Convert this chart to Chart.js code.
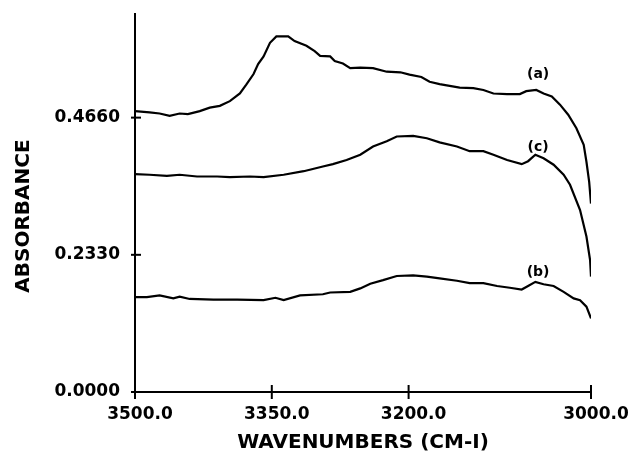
<!DOCTYPE html>
<html>
<head>
<meta charset="utf-8">
<script src="https://cdn.jsdelivr.net/npm/chart.js@4/dist/chart.umd.min.js"></script>
<style>
  html, body { margin: 0; padding: 0; background: #fff; }
  #wrap { width: 632px; height: 456px; }
</style>
</head>
<body>
<div id="wrap"><canvas id="spectrum" width="632" height="456"></canvas></div>
<script>
// spectrum (a)
var waveA = [3500,3484,3473,3462,3451,3442,3429,3418,3407,3396,3385,3378,3370,3365,3359,3352,3345,3332,3325,3312,
             3303,3297,3286,3281,3272,3264,3253,3239,3224,3209,3199,3186,3177,3166,3155,3144,3129,3118,3107,3092,
             3078,3071,3060,3052,3043,3034,3025,3016,3008,3005,3002,3000];
var absA  = [0.477,0.475,0.473,0.469,0.473,0.472,0.477,0.483,0.486,0.494,0.507,0.522,0.540,0.557,0.570,0.593,0.604,0.604,0.596,0.588,
             0.579,0.571,0.570,0.562,0.558,0.550,0.551,0.550,0.544,0.543,0.539,0.535,0.527,0.523,0.520,0.517,0.516,0.513,0.507,0.506,
             0.506,0.511,0.513,0.507,0.502,0.488,0.471,0.448,0.420,0.391,0.357,0.320];

// spectrum (c)
var waveC = [3500,3484,3465,3451,3432,3410,3396,3374,3359,3337,3315,3294,3283,3268,3253,3239,3224,3213,3195,3180,
             3166,3147,3133,3118,3107,3092,3076,3069,3061,3052,3041,3030,3023,3012,3005,3001,3000];
var absC  = [0.370,0.369,0.367,0.369,0.366,0.366,0.365,0.366,0.365,0.369,0.375,0.383,0.387,0.394,0.403,0.417,0.426,0.434,0.435,0.431,
             0.424,0.417,0.409,0.409,0.403,0.394,0.387,0.392,0.403,0.397,0.386,0.369,0.352,0.309,0.264,0.224,0.196];

// spectrum (b)
var waveB = [3500,3487,3473,3458,3451,3440,3414,3388,3359,3346,3337,3319,3294,3286,3264,3253,3242,3228,3213,3195,
             3180,3166,3147,3133,3118,3103,3089,3076,3069,3061,3052,3041,3030,3019,3012,3005,3000];
var absB  = [0.161,0.161,0.164,0.159,0.162,0.158,0.157,0.157,0.156,0.160,0.156,0.164,0.166,0.169,0.170,0.176,0.184,0.190,0.197,0.198,
             0.196,0.193,0.189,0.185,0.185,0.180,0.177,0.174,0.180,0.187,0.183,0.180,0.170,0.159,0.156,0.145,0.125];

var xTickValues = [3000, 3200, 3350, 3500];
var yTickValues = [0, 0.2330, 0.4660];

// curve tags
var tagText = ['(a)', '(c)', '(b)'];
var tagWave = [3058, 3058, 3058];
var tagAbs  = [0.540, 0.416, 0.204];

function toPoints(xs, ys){
  var pts = [];
  for (var i = 0; i < xs.length; i++) {
    pts.push({x: xs[i], y: ys[i]});
  }
  return pts;
}

var FONT = '"DejaVu Sans", sans-serif';

var decorations = {
  id: 'decorations',
  afterDraw: function(chart){
    var ctx = chart.ctx;
    var x = chart.scales.x;
    var y = chart.scales.y;
    ctx.save();
    ctx.strokeStyle = '#000';
    ctx.lineWidth = 2;
    // tick marks crossing the axes
    xTickValues.forEach(function(v){
      var px = x.getPixelForValue(v);
      ctx.beginPath();
      ctx.moveTo(px, y.bottom - 7);
      ctx.lineTo(px, y.bottom + 7);
      ctx.stroke();
    });
    yTickValues.forEach(function(v){
      var py = y.getPixelForValue(v);
      ctx.beginPath();
      ctx.moveTo(x.left - 4, py);
      ctx.lineTo(x.left + 6, py);
      ctx.stroke();
    });
    // curve tags
    ctx.fillStyle = '#000';
    ctx.font = 'bold 14px ' + FONT;
    ctx.textAlign = 'center';
    ctx.textBaseline = 'middle';
    for (var i = 0; i < tagText.length; i++) {
      ctx.fillText(tagText[i], x.getPixelForValue(tagWave[i]), y.getPixelForValue(tagAbs[i]));
    }
    // y axis title
    ctx.font = 'bold 20px ' + FONT;
    ctx.translate(24, 216);
    ctx.rotate(-Math.PI / 2);
    ctx.fillText('ABSORBANCE', 0, 0);
    ctx.restore();
  }
};

function line(label, xs, ys){
  return {
    label: label,
    data: toPoints(xs, ys),
    borderColor: '#000',
    borderWidth: 2.2,
    pointRadius: 0,
    tension: 0,
    fill: false
  };
}

var ctx = document.getElementById('spectrum').getContext('2d');
var chart = new Chart(ctx, {
  type: 'line',
  data: {
    datasets: [
      line('a', waveA, absA),
      line('c', waveC, absC),
      line('b', waveB, absB)
    ]
  },
  options: {
    responsive: false,
    animation: false,
    layout: { padding: { top: 14, right: 41, left: 0, bottom: 0 } },
    plugins: {
      legend: { display: false },
      tooltip: { enabled: false }
    },
    scales: {
      x: {
        type: 'linear',
        min: 3000,
        max: 3500,
        reverse: true,
        grid: { display: false, drawTicks: false },
        border: { display: true, color: '#000', width: 2 },
        afterBuildTicks: function(scale){
          scale.ticks = xTickValues.map(function(v){ return {value: v}; });
        },
        afterFit: function(scale){
          scale.height = 64;
          scale.paddingLeft = 0;
          scale.paddingRight = 0;
        },
        ticks: {
          color: '#000',
          font: { family: FONT, size: 17, weight: 'bold' },
          padding: 12,
          labelOffset: 5,
          maxRotation: 0,
          callback: function(v){ return Number(v).toFixed(1); }
        },
        title: {
          display: true,
          text: 'WAVENUMBERS (CM-I)',
          color: '#000',
          font: { family: FONT, size: 20, weight: 'bold' },
          padding: { top: 0, bottom: 1 }
        }
      },
      y: {
        type: 'linear',
        min: 0,
        max: 0.642,
        grid: { display: false, drawTicks: false },
        border: { display: true, color: '#000', width: 2 },
        afterBuildTicks: function(scale){
          scale.ticks = yTickValues.map(function(v){ return {value: v}; });
        },
        afterFit: function(scale){
          scale.width = 135;
          scale.paddingTop = 0;
          scale.paddingBottom = 0;
        },
        ticks: {
          color: '#000',
          font: { family: FONT, size: 17, weight: 'bold' },
          padding: 15,
          callback: function(v){ return Number(v).toFixed(4); }
        }
      }
    }
  },
  plugins: [decorations]
});
</script>
</body>
</html>
